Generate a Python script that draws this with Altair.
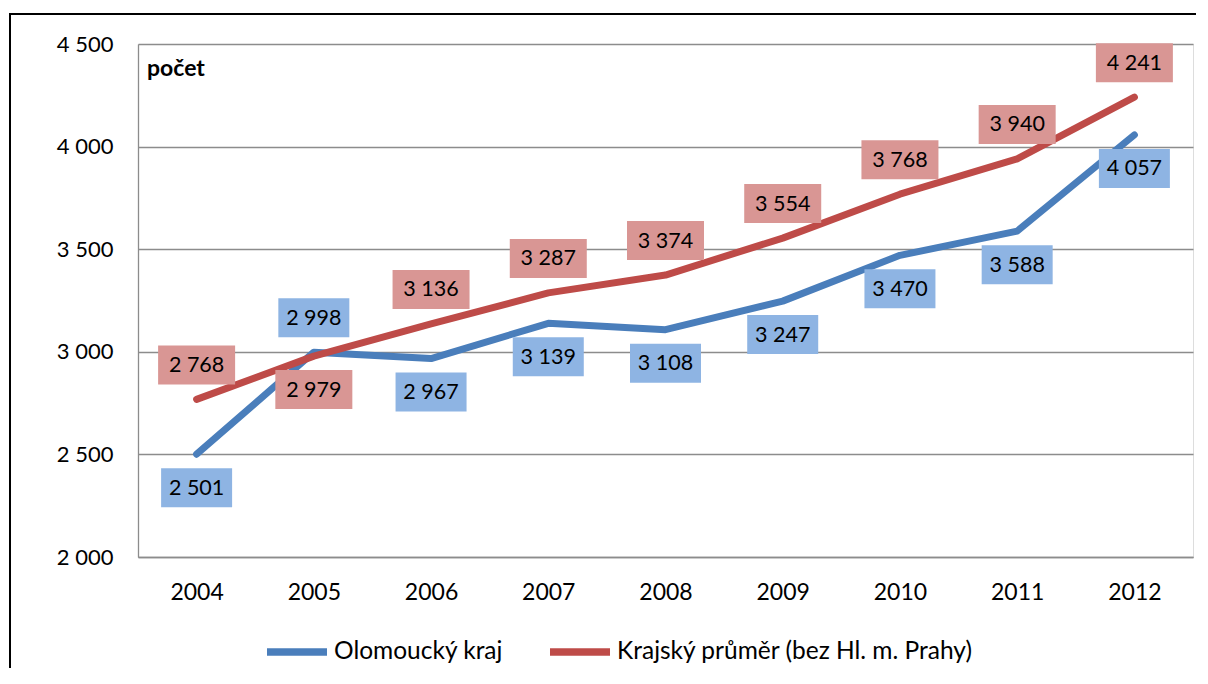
import altair as alt
import pandas as pd

years = ["2004", "2005", "2006", "2007", "2008", "2009", "2010", "2011", "2012"]
olomoucky = [2501, 2998, 2967, 3139, 3108, 3247, 3470, 3588, 4057]
prumer = [2768, 2979, 3136, 3287, 3374, 3554, 3768, 3940, 4241]
series_names = ["Olomoucký kraj", "Krajský průměr (bez Hl. m. Prahy)"]
olomoucky_label_pos = ["below", "above", "below", "below", "below", "below", "below", "below", "below"]
prumer_label_pos = ["above", "below", "above", "above", "above", "above", "above", "above", "above"]
y_ticks = [2000, 2500, 3000, 3500, 4000, 4500]
y_title = "počet"

BLUE = "#4A7EBB"
RED = "#BE4B48"
BLUE_BOX = "#8EB4E3"
RED_BOX = "#D99694"
GRID = "#8C8C8C"
FONT = "Lato"

rows = []
for yr, v, p in zip(years, olomoucky, olomoucky_label_pos):
    rows.append({"year": yr, "value": v, "series": series_names[0], "pos": p})
for yr, v, p in zip(years, prumer, prumer_label_pos):
    rows.append({"year": yr, "value": v, "series": series_names[1], "pos": p})
df = pd.DataFrame(rows)

x_enc = alt.X(
    "year:O",
    title=None,
    scale=alt.Scale(type="point", padding=0.5),
    axis=alt.Axis(
        labelAngle=0, ticks=False, tickSize=0, labelPadding=35, labelBaseline="middle",
        labelFont=FONT, labelFontSize=23, labelColor="black",
        domainColor=GRID, domainWidth=1.3, grid=False,
    ),
)
y_enc = alt.Y(
    "value:Q",
    title=None,
    scale=alt.Scale(domain=[2000, 4500], nice=False, zero=False),
    axis=alt.Axis(
        values=y_ticks, labelExpr="replace(format(datum.value, ',d'), ',', ' ')",
        ticks=False, tickSize=0, labelPadding=25, labelBaseline="middle",
        labelFont=FONT, labelFontSize=22, labelColor="black",
        domainColor=GRID, domainWidth=1.3, grid=True, gridColor=GRID, gridWidth=1.3,
    ),
)
color_enc = alt.Color(
    "series:N",
    scale=alt.Scale(domain=series_names, range=[BLUE, RED]),
    legend=alt.Legend(
        title=None, orient="none", legendX=125, legendY=574, direction="horizontal",
        labelFont=FONT, labelFontSize=24.5, labelColor="black", labelLimit=600,
        symbolType="stroke", symbolSize=3600, symbolStrokeWidth=7.5, labelOffset=3,
        columnPadding=31, padding=0,
    ),
)

base = alt.Chart(df)
one = pd.DataFrame({"a": [0]})

frame_left = alt.Chart(one).mark_rule(color="black", strokeWidth=2).encode(
    x=alt.value(-128), y=alt.value(-31), y2=alt.value(640))
frame_top = alt.Chart(one).mark_rule(color="black", strokeWidth=2).encode(
    x=alt.value(-129), x2=alt.value(1058), y=alt.value(-30))

lines = []
for s in series_names:
    lines.append(
        base.transform_filter(alt.datum.series == s)
        .mark_line(strokeWidth=7, strokeCap="round", strokeJoin="round")
        .encode(x=x_enc, y=y_enc, color=color_enc)
    )

def box_path(w, h):
    r = h / w
    return f"M-1,-{r:.4f}L1,-{r:.4f}L1,{r:.4f}L-1,{r:.4f}Z"

labels = []
for s, fill, w in [(series_names[0], BLUE_BOX, 71), (series_names[1], RED_BOX, 77)]:
    for pos, off in [("above", -34.5), ("below", 33.5)]:
        sel = base.transform_filter((alt.datum.series == s) & (alt.datum.pos == pos))
        labels.append(
            sel.mark_point(shape=box_path(w, 39), size=w * w, filled=True, fill=fill,
                           opacity=1, strokeWidth=0, yOffset=off)
            .encode(x=x_enc, y=y_enc)
        )
        labels.append(
            sel.transform_calculate(label="replace(format(datum.value, ',d'), ',', ' ')")
            .mark_text(font=FONT, fontSize=21.5, color="black", baseline="middle",
                       align="center", yOffset=off + 1)
            .encode(x=x_enc, y=y_enc, text="label:N")
        )

unit_title = alt.Chart(pd.DataFrame({"t": [y_title]})).mark_text(
    font=FONT, fontSize=23, fontWeight="bold", align="left", baseline="alphabetic", color="black"
).encode(x=alt.value(9), y=alt.value(32), text="t:N")

chart = alt.layer(frame_left, frame_top, *lines, *labels, unit_title).properties(
    width=1055, height=513,
    autosize=alt.AutoSizeParams(type="none"),
    padding={"left": 130, "top": 36, "right": 5, "bottom": 111},
).configure_view(stroke=None).configure(font=FONT)

chart.save("out.html", embed_options={"renderer": "svg", "actions": False})
